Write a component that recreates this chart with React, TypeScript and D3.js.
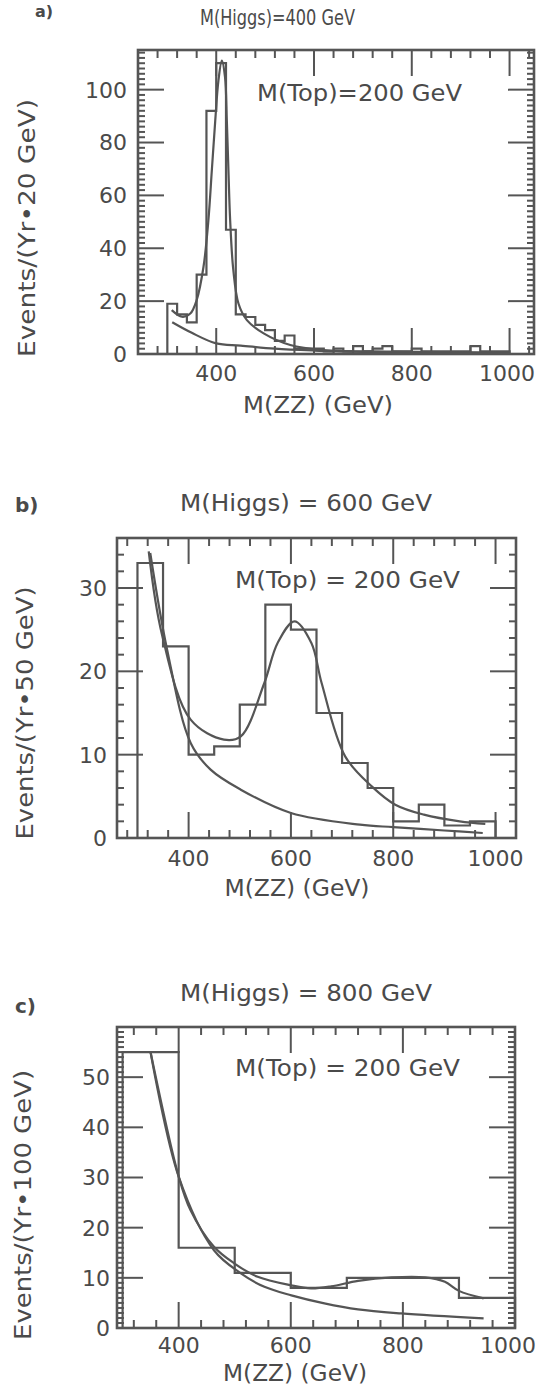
import React from 'react';
import * as d3 from 'd3';

// ---------- Panel a: M(Higgs)=400 GeV, 20 GeV bins ----------
const binStartA = [300, 320, 340, 360, 380, 400, 420, 440, 460, 480, 500, 520, 540, 560, 580, 600, 620, 640, 660, 680, 700, 720, 740, 760, 780, 800, 820, 840, 860, 880, 900, 920, 940, 960, 980];
const countsA = [19, 15, 12, 30, 92, 110, 47, 15, 14, 11, 9, 5, 7, 2, 2, 2, 1, 2, 1, 3, 1, 2, 3, 1, 1, 2, 1, 1, 1, 1, 1, 3, 1, 1, 1];
const totalXA = [309, 330, 347, 360, 374, 384, 391, 398, 404.5, 411.5, 418, 421.7, 425, 428.5, 435, 445.5, 462.7, 497, 551.5, 620, 756, 1000];
const totalYA = [16.6, 14.1, 15.3, 20.4, 33, 50.6, 69.4, 88.3, 103.4, 111, 104.7, 88.3, 69.4, 50.6, 31.7, 19.1, 12.8, 7.8, 3.4, 1.5, 0.9, 0.5];
const bkgXA = [310, 350, 400, 450, 520, 600, 700, 850, 1000];
const bkgYA = [12, 8, 4, 3.2, 2, 1.3, 0.8, 0.5, 0.3];

// ---------- Panel b: M(Higgs)=600 GeV, 50 GeV bins ----------
const binStartB = [300, 350, 400, 450, 500, 550, 600, 650, 700, 750, 800, 850, 900, 950];
const countsB = [33, 23, 10, 11, 16, 28, 25, 15, 9, 6, 2, 4, 1.5, 2];
const totalXB = [322, 348, 404, 469, 502, 548, 574, 607, 640, 660, 706, 758, 804, 860, 930, 980];
const totalYB = [34.4, 24.4, 14.2, 11.8, 12.2, 18.6, 23.4, 26, 23.4, 18.6, 9.8, 6.2, 4, 2.8, 2, 1.7];
const bkgXB = [325, 358, 404, 443, 502, 600, 735, 800, 900, 975];
const bkgYB = [34.2, 22.6, 11.4, 8.2, 5.8, 3, 1.6, 1.3, 0.9, 0.6];

// ---------- Panel c: M(Higgs)=800 GeV, 100 GeV bins ----------
const binStartC = [300, 400, 500, 600, 700, 800, 900];
const countsC = [55, 16, 11, 8, 10, 10, 6];
const totalXC = [350, 400, 421, 463, 499, 541, 601, 636, 672, 720, 780, 840, 875, 900, 944];
const totalYC = [54.9, 30.2, 23.5, 16.2, 12.9, 10.2, 8.5, 7.9, 8.3, 9.4, 10.1, 10.1, 9.2, 7.4, 5.9];
const bkgXC = [350, 400, 463, 511, 553, 601, 660, 720, 797, 944];
const bkgYC = [54.9, 30.2, 15.5, 10.9, 8.2, 6.5, 4.9, 3.7, 2.9, 1.9];

// ---------- Texts and ticks ----------
const xMajorTicks = [400, 600, 800, 1000];
const yTickLabelsA = [0, 20, 40, 60, 80, 100];
const yTickLabelsB = [0, 10, 20, 30];
const yTickLabelsC = [0, 10, 20, 30, 40, 50];
const tags = ['a)', 'b)', 'c)'];
const titles = ['M(Higgs)=400 GeV', 'M(Higgs) = 600 GeV', 'M(Higgs) = 800 GeV'];
const topLabels = ['M(Top)=200 GeV', 'M(Top) = 200 GeV', 'M(Top) = 200 GeV'];
const yLabels = ['Events/(Yr•20 GeV)', 'Events/(Yr•50 GeV)', 'Events/(Yr•100 GeV)'];
const xLabel = 'M(ZZ) (GeV)';

const STROKE = '#555555';
const TEXT = '#4a4a4a';
const FONT = '"DejaVu Sans", Verdana, sans-serif';

type Cfg = {
  binStart: number[]; counts: number[]; binW: number;
  totalX: number[]; totalY: number[]; bkgX: number[]; bkgY: number[];
  yTicks: number[];
  left: number; right: number; top: number; bottom: number;
  xDomain: [number, number]; yDomain: [number, number];
  yMinorStep: number; xMinorStart: number;
  yTickRight: number; xTickBase: number; xTickMaxCx: number;
  xLabelCx: number; xLabelBase: number; xLabelLen: number;
  yLabelCx: number; yLabelCy: number; yLabelLen: number;
  titleX0: number; titleLen: number; titleBase: number; titleSize: number;
  topX0: number; topLen: number; topBase: number;
  tagX: number; tagBase: number; tagSize: number;
  idx: number;
};

const cfgs: Cfg[] = [
  {
    binStart: binStartA, counts: countsA, binW: 20,
    totalX: totalXA, totalY: totalYA, bkgX: bkgXA, bkgY: bkgYA, yTicks: yTickLabelsA,
    left: 138, right: 534, top: 50, bottom: 354,
    xDomain: [240, 1050], yDomain: [0, 115], yMinorStep: 2, xMinorStart: 280,
    yTickRight: 127, xTickBase: 381, xTickMaxCx: 507,
    xLabelCx: 318, xLabelBase: 413, xLabelLen: 150,
    yLabelCx: 27, yLabelCy: 228, yLabelLen: 258,
    titleX0: 200, titleLen: 155, titleBase: 25, titleSize: 21,
    topX0: 257, topLen: 205, topBase: 101,
    tagX: 35, tagBase: 17, tagSize: 16, idx: 0,
  },
  {
    binStart: binStartB, counts: countsB, binW: 50,
    totalX: totalXB, totalY: totalYB, bkgX: bkgXB, bkgY: bkgYB, yTicks: yTickLabelsB,
    left: 117, right: 516, top: 538, bottom: 838,
    xDomain: [260, 1040], yDomain: [0, 36], yMinorStep: 2, xMinorStart: 280,
    yTickRight: 107, xTickBase: 866, xTickMaxCx: 507,
    xLabelCx: 297, xLabelBase: 896, xLabelLen: 145,
    yLabelCx: 25, yLabelCy: 713, yLabelLen: 253,
    titleX0: 180, titleLen: 252, titleBase: 511, titleSize: 23,
    topX0: 235, topLen: 225, topBase: 588,
    tagX: 15, tagBase: 512, tagSize: 20, idx: 1,
  },
  {
    binStart: binStartC, counts: countsC, binW: 100,
    totalX: totalXC, totalY: totalYC, bkgX: bkgXC, bkgY: bkgYC, yTicks: yTickLabelsC,
    left: 117, right: 515, top: 1027, bottom: 1328,
    xDomain: [290, 1000], yDomain: [0, 60], yMinorStep: 1, xMinorStart: 320,
    yTickRight: 110, xTickBase: 1353, xTickMaxCx: 508,
    xLabelCx: 295, xLabelBase: 1381, xLabelLen: 144,
    yLabelCx: 23, yLabelCy: 1205, yLabelLen: 270,
    titleX0: 180, titleLen: 252, titleBase: 1001, titleSize: 23,
    topX0: 235, topLen: 225, topBase: 1076,
    tagX: 15, tagBase: 1013, tagSize: 20, idx: 2,
  },
];

function Panel({ c }: { c: Cfg }) {
  const x = d3.scaleLinear().domain(c.xDomain).range([c.left, c.right]);
  const y = d3.scaleLinear().domain(c.yDomain).range([c.bottom, c.top]);
  const n = c.binStart.length;
  const end = c.binStart[n - 1] + c.binW;
  const histPts: [number, number][] = [
    [c.binStart[0], 0],
    ...c.binStart.map((s, i) => [s, c.counts[i]] as [number, number]),
    [end, c.counts[n - 1]],
    [end, 0],
  ];
  const stepLine = d3.line<[number, number]>().x(d => x(d[0])).y(d => y(d[1])).curve(d3.curveStepAfter);
  const smooth = d3.line<[number, number]>().x(d => x(d[0])).y(d => y(d[1])).curve(d3.curveCatmullRom.alpha(0.5));
  const totalPts = c.totalX.map((v, i) => [v, c.totalY[i]] as [number, number]);
  const bkgPts = c.bkgX.map((v, i) => [v, c.bkgY[i]] as [number, number]);

  const xMinor = d3.range(c.xMinorStart, c.xDomain[1] + 0.01, 40).filter(v => !xMajorTicks.includes(v));
  const xMajor = xMajorTicks.filter(v => v <= c.xDomain[1] + 0.01);
  const yStep = c.yTicks[1] - c.yTicks[0];
  const yMajor = d3.range(c.yDomain[0], c.yDomain[1] + 0.01, yStep);
  const yMinor = d3.range(c.yDomain[0], c.yDomain[1] + 0.01, c.yMinorStep).filter(v => v % yStep !== 0);
  const MAJ = 26, MIN = 8, YMIN = 7;

  return (
    <g>
      <text x={c.tagX} y={c.tagBase} fontSize={c.tagSize} fontWeight="bold" fill={TEXT}>{tags[c.idx]}</text>
      <text x={c.titleX0} y={c.titleBase} fontSize={c.titleSize} fill={TEXT} textLength={c.titleLen} lengthAdjust="spacingAndGlyphs">{titles[c.idx]}</text>

      {/* ticks */}
      <g stroke={STROKE} strokeWidth={2}>
        {xMajor.map(v => (
          <g key={'xM' + v}>
            <line x1={x(v)} x2={x(v)} y1={c.bottom} y2={c.bottom - MAJ} />
            <line x1={x(v)} x2={x(v)} y1={c.top} y2={c.top + MAJ} />
          </g>
        ))}
        {xMinor.map(v => (
          <g key={'xm' + v}>
            <line x1={x(v)} x2={x(v)} y1={c.bottom} y2={c.bottom - MIN} />
            <line x1={x(v)} x2={x(v)} y1={c.top} y2={c.top + MIN} />
          </g>
        ))}
        {yMajor.map(v => (
          <g key={'yM' + v}>
            <line x1={c.left} x2={c.left + MAJ} y1={y(v)} y2={y(v)} />
            <line x1={c.right} x2={c.right - MAJ} y1={y(v)} y2={y(v)} />
          </g>
        ))}
        {yMinor.map(v => (
          <g key={'ym' + v}>
            <line x1={c.left} x2={c.left + YMIN} y1={y(v)} y2={y(v)} />
            <line x1={c.right} x2={c.right - YMIN} y1={y(v)} y2={y(v)} />
          </g>
        ))}
      </g>

      {/* histogram and curves */}
      <path d={stepLine(histPts) || ''} fill="none" stroke={STROKE} strokeWidth={2.2} />
      <path d={smooth(bkgPts) || ''} fill="none" stroke={STROKE} strokeWidth={2.2} />
      <path d={smooth(totalPts) || ''} fill="none" stroke={STROKE} strokeWidth={2.2} />

      {/* frame */}
      <rect x={c.left} y={c.top} width={c.right - c.left} height={c.bottom - c.top} fill="none" stroke={STROKE} strokeWidth={2.6} />

      <text x={c.topX0} y={c.topBase} fontSize={23} fill={TEXT} textLength={c.topLen} lengthAdjust="spacingAndGlyphs">{topLabels[c.idx]}</text>

      {/* tick labels */}
      {xMajor.map(v => (
        <text key={'xl' + v} x={Math.min(x(v), c.xTickMaxCx)} y={c.xTickBase} fontSize={22} fill={TEXT} textAnchor="middle">{v}</text>
      ))}
      {c.yTicks.map(v => (
        <text key={'yl' + v} x={c.yTickRight} y={y(v)} dy="0.36em" fontSize={22} fill={TEXT} textAnchor="end">{v}</text>
      ))}

      <text x={c.xLabelCx} y={c.xLabelBase} fontSize={23} fill={TEXT} textAnchor="middle" textLength={c.xLabelLen} lengthAdjust="spacingAndGlyphs">{xLabel}</text>
      <text transform={`translate(${c.yLabelCx},${c.yLabelCy}) rotate(-90)`} dy="0.36em" fontSize={23} fill={TEXT} textAnchor="middle" textLength={c.yLabelLen} lengthAdjust="spacingAndGlyphs">{yLabels[c.idx]}</text>
    </g>
  );
}

export default function App() {
  return (
    <svg width={540} height={1393} viewBox="0 0 540 1393" style={{ position: 'absolute', left: 0, top: 0, background: '#fff' }} fontFamily={FONT}>
      <rect x={0} y={0} width={540} height={1393} fill="#fff" />
      {cfgs.map(c => <Panel key={c.idx} c={c} />)}
    </svg>
  );
}
